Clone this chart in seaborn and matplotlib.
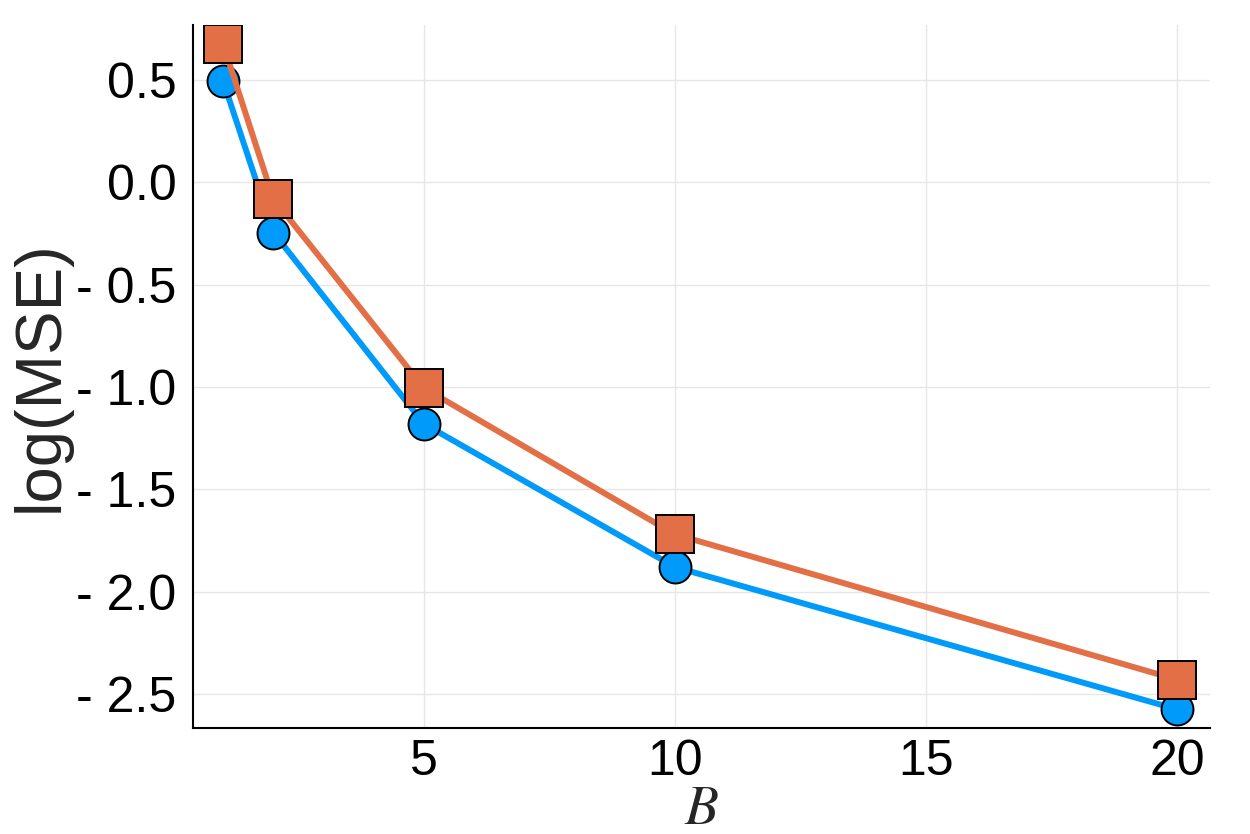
import matplotlib
matplotlib.use("Agg")
import matplotlib.pyplot as plt
from matplotlib.ticker import FuncFormatter
import seaborn as sns
import pandas as pd

# number of batches B and the two log(MSE) curves
B = [1, 2, 5, 10, 20]
mse_blue = [0.495, -0.245, -1.18, -1.88, -2.575]
mse_orange = [0.675, -0.08, -1.005, -1.72, -2.43]

sns.set_style("white")
plt.rcParams['font.family'] = ['Liberation Sans', 'DejaVu Sans']
plt.rcParams['mathtext.fontset'] = 'stix'

df = pd.DataFrame({"B": B, "blue": mse_blue, "orange": mse_orange})

fig = plt.figure(figsize=(12.5, 8.34), dpi=100)
ax = fig.add_axes([0.1544, 0.127, 0.8136, 0.843])

sns.lineplot(data=df, x="B", y="blue", ax=ax, color="#009AFA", lw=4.3,
             marker="o", markersize=23, markeredgecolor="black",
             markeredgewidth=1.4, zorder=3)
sns.lineplot(data=df, x="B", y="orange", ax=ax, color="#E36F47", lw=4.3,
             marker="s", markersize=27, markeredgecolor="black",
             markeredgewidth=1.4, zorder=4)

ax.set_xlim(0.4, 20.66)
ax.set_ylim(-2.667, 0.769)
ax.set_xticks([5, 10, 15, 20])
ax.set_yticks([0.5, 0.0, -0.5, -1.0, -1.5, -2.0, -2.5])
ax.yaxis.set_major_formatter(FuncFormatter(
    lambda v, p: f"- {abs(v):.1f}" if v < -1e-9 else f"{abs(v):.1f}"))

ax.grid(True, color="#e6e6e6", lw=1.0)
ax.set_axisbelow(True)
for s in ["top", "right"]:
    ax.spines[s].set_visible(False)
for s in ["left", "bottom"]:
    ax.spines[s].set_color("black")
    ax.spines[s].set_linewidth(1.5)

ax.tick_params(axis="both", direction="in", labelsize=36, colors="black",
               width=1.5, pad=12)
ax.tick_params(axis="x", length=8, pad=8)
ax.tick_params(axis="y", length=11)

ax.set_xlabel("$B$", fontsize=40, labelpad=-1)
ax.set_ylabel("log(MSE)", fontsize=47, labelpad=4)

fig.savefig("out.png", dpi=100)
